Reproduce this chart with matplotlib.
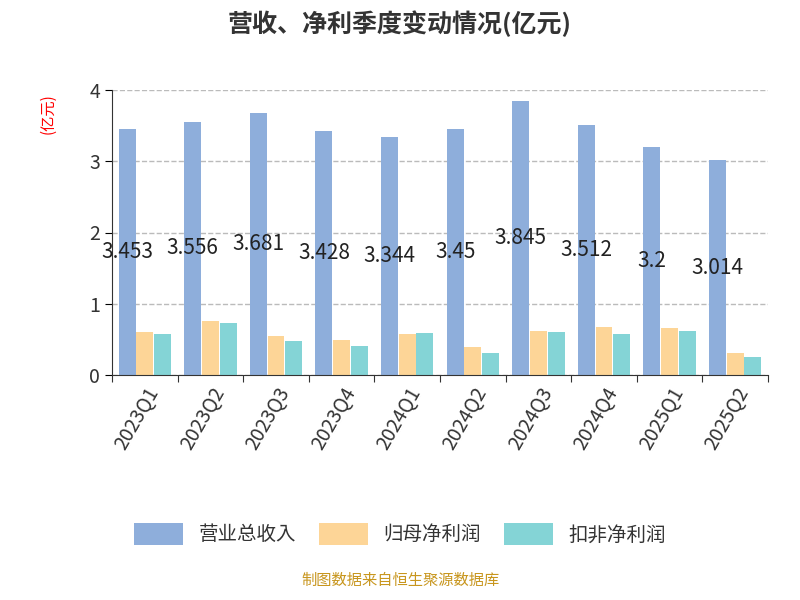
import numpy as np
import matplotlib.pyplot as plt
from matplotlib import font_manager

# pick up whatever CJK font file is installed
cjk = None
for f in font_manager.findSystemFonts():
    if 'CJK' in f and ('Regular' in f or 'Medium' not in f):
        try:
            font_manager.fontManager.addfont(f)
            cjk = font_manager.FontProperties(fname=f).get_name()
            break
        except Exception:
            pass
plt.rcParams['font.family'] = [cjk] if cjk else ['Noto Sans CJK SC', 'Noto Sans CJK JP', 'DejaVu Sans']

quarters = ['2023Q1', '2023Q2', '2023Q3', '2023Q4', '2024Q1', '2024Q2',
            '2024Q3', '2024Q4', '2025Q1', '2025Q2']
revenue = [3.453, 3.556, 3.681, 3.428, 3.344, 3.45, 3.845, 3.512, 3.2, 3.014]
net_profit = [0.60, 0.76, 0.55, 0.49, 0.58, 0.39, 0.62, 0.68, 0.66, 0.31]
deducted = [0.58, 0.73, 0.48, 0.41, 0.59, 0.31, 0.61, 0.58, 0.62, 0.25]

fig = plt.figure(figsize=(8, 6), dpi=100)
ax = fig.add_axes([0.14, 0.375, 0.82, 0.475])

x = np.arange(len(quarters))
w = 0.27
ax.bar(x - w, revenue, w * 0.95, color='#8eaedb', label='营业总收入')
ax.bar(x, net_profit, w * 0.95, color='#fdd597', label='归母净利润')
ax.bar(x + w, deducted, w * 0.95, color='#84d4d6', label='扣非净利润')
for xi, v in zip(x, revenue):
    ax.text(xi - w, v / 2, f'{v:g}', ha='center', va='center', fontsize=15,
            color='#222222')

ax.set_xlim(-0.5, len(quarters) - 0.5)
ax.set_ylim(0, 4)
ax.set_yticks([0, 1, 2, 3, 4])
ax.set_xticks(np.arange(len(quarters) + 1) - 0.5, minor=False)
ax.set_xticklabels([])
ax.set_xticks(x, minor=True)
ax.set_xticklabels(quarters, minor=True, rotation=60, ha='right',
                   rotation_mode='anchor', fontsize=14, color='#333333')
ax.tick_params(axis='x', which='minor', length=0, pad=6)
ax.tick_params(axis='x', which='major', length=5, color='#333333')
ax.tick_params(axis='y', labelsize=14, labelcolor='#333333', length=5)
ax.grid(axis='y', linestyle='--', color='#bbbbbb', linewidth=1)
ax.set_axisbelow(True)
for s in ['top', 'right']:
    ax.spines[s].set_visible(False)
ax.spines['left'].set_color('#333333')
ax.spines['bottom'].set_color('#333333')

fig.text(0.06, 0.81, '(亿元)', rotation=90, color='red', fontsize=11,
         ha='center', va='center')
fig.text(0.5, 0.96, '营收、净利季度变动情况(亿元)', ha='center', va='center',
         fontsize=18, fontweight='bold', color='#333333')
fig.legend(loc='center', bbox_to_anchor=(0.5, 0.11), ncol=3, frameon=False,
           fontsize=14, handlelength=2.5, handleheight=1.4, columnspacing=1.2,
           labelcolor='#333333')
fig.text(0.5, 0.018, '制图数据来自恒生聚源数据库', ha='center', va='bottom',
         fontsize=11, color='#c8961e')

fig.savefig('out.png')
